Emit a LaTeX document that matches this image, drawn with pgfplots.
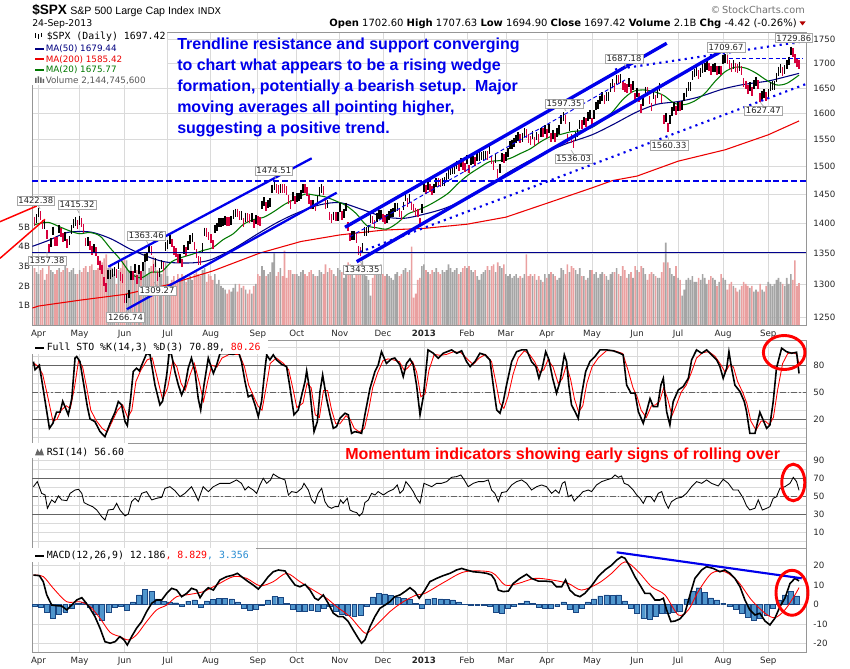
\documentclass[border=0pt]{standalone}
\usepackage{pgfplots}
\pgfplotsset{compat=1.18}
\usepackage{pgfplotstable}
\usepackage{fontspec}
\setmainfont{DejaVu Sans}
\newfontfamily\arialf{Liberation Sans}
\newfontfamily\monof{DejaVu Sans Mono}
\definecolor{upc}{RGB}{0,0,0}
\definecolor{dnc}{RGB}{214,0,60}
\definecolor{volg}{RGB}{165,165,165}
\definecolor{volr}{RGB}{234,160,160}
\definecolor{ma50}{RGB}{0,0,128}
\definecolor{ma200}{RGB}{235,0,0}
\definecolor{ma20}{RGB}{0,120,0}
\definecolor{gridc}{RGB}{218,218,218}
\definecolor{framec}{RGB}{150,150,150}
\definecolor{histc}{RGB}{80,150,205}
\definecolor{histd}{RGB}{25,70,130}
\definecolor{annblue}{RGB}{0,0,235}
\definecolor{macdblue}{RGB}{40,140,210}
\definecolor{lvl}{RGB}{100,100,100}
\newcommand\sm{\fontsize{6.5}{7.5}\selectfont}

\pgfplotsset{
  panel/.style={
    scale only axis, width=580.5pt, anchor=south west,
    xmin=-3.2, xmax=374.4,
    xtick={0,20,42,63,84,107,126,147,168,188,209,228,248,270,292,312,334,356},
    xmajorgrids, grid style={gridc, line width=0.6pt},
    minor grid style={gridc, line width=0.6pt},
    axis line style={framec, line width=0.6pt},
    tick style={draw=none},
    yticklabel pos=right,
    ticklabel style={font=\sm, text=black!85},
    yticklabel style={xshift=2pt},
    xticklabel style={yshift=-0.5pt},
    /pgf/number format/assume math mode=true,
  },
}

\pgfplotstableread{
i c v d
-2 1403.3 2.9 0
-1 1408.5 2.7 1
0 1419.0 2.6 1
1 1413.4 2.8 0
2 1398.0 2.9 0
3 1398.1 2.3 1
4 1382.2 2.6 0
5 1358.6 3.3 0
6 1368.7 2.8 1
7 1387.6 2.7 1
8 1370.3 2.6 0
9 1369.6 2.8 0
10 1390.8 2.9 1
11 1385.1 2.7 0
12 1376.9 2.8 0
13 1378.5 3.0 1
14 1366.9 2.9 0
15 1372.0 2.7 1
16 1390.7 2.8 1
17 1400.0 2.9 1
18 1403.4 2.6 1
19 1397.9 2.6 0
20 1405.8 2.8 1
21 1402.3 2.7 0
22 1391.6 2.9 0
23 1369.1 3.0 0
24 1369.6 2.7 1
25 1363.7 3.0 0
26 1354.6 3.1 0
27 1358.0 2.8 1
28 1353.4 2.8 0
29 1338.4 2.9 0
30 1330.7 3.3 0
31 1324.8 3.2 0
32 1304.9 3.4 0
33 1295.2 3.6 0
34 1316.0 2.9 1
35 1316.6 3.0 1
36 1318.9 2.9 1
37 1320.7 2.6 1
38 1317.8 2.1 0
39 1332.4 2.8 1
40 1313.3 2.9 0
41 1310.3 3.3 0
42 1278.0 3.4 0
43 1278.2 3.3 1
44 1285.5 2.8 1
45 1315.1 3.0 1
46 1315.0 2.7 0
47 1325.7 2.6 1
48 1308.9 2.8 0
49 1324.2 2.9 1
50 1314.9 2.7 0
51 1329.1 3.0 1
52 1342.8 3.7 1
53 1344.8 2.6 1
54 1358.0 2.9 1
55 1355.7 3.0 0
56 1325.5 3.5 0
57 1335.0 3.2 1
58 1313.7 2.8 0
59 1320.0 2.7 1
60 1331.9 2.6 1
61 1329.0 2.8 0
62 1362.2 3.2 1
63 1365.5 2.5 1
64 1374.0 1.6 1
65 1367.6 2.3 0
66 1354.7 2.5 0
67 1352.5 2.2 0
68 1341.5 2.6 0
69 1341.5 2.4 1
70 1334.8 2.6 0
71 1356.8 2.5 1
72 1353.6 2.2 0
73 1363.7 2.4 1
74 1372.8 2.5 1
75 1376.5 2.3 1
76 1362.7 2.6 0
77 1350.5 2.7 0
78 1338.3 2.6 0
79 1337.9 2.5 0
80 1360.0 2.8 1
81 1386.0 2.9 1
82 1385.3 2.2 0
83 1379.3 2.6 0
84 1375.1 2.5 0
85 1365.0 2.3 0
86 1391.0 2.6 1
87 1394.2 2.1 1
88 1401.4 2.3 1
89 1402.2 2.0 1
90 1402.8 1.9 1
91 1405.9 1.8 1
92 1404.1 1.6 0
93 1403.9 1.8 0
94 1405.5 1.7 1
95 1415.5 1.9 1
96 1418.2 2.1 1
97 1418.1 1.7 0
98 1413.2 2.1 0
99 1413.5 1.9 1
100 1402.1 2.0 0
101 1411.1 1.8 1
102 1410.4 1.6 0
103 1409.3 1.8 0
104 1410.5 1.6 1
105 1399.5 2.0 0
106 1406.6 2.1 1
107 1404.9 2.6 0
108 1403.4 2.5 0
109 1432.1 3.0 1
110 1437.9 2.8 1
111 1429.1 2.5 0
112 1433.6 2.6 1
113 1436.6 2.7 1
114 1460.0 3.2 1
115 1465.8 3.7 1
116 1461.2 2.5 0
117 1459.3 2.7 0
118 1461.1 2.9 1
119 1460.3 2.5 0
120 1460.2 3.8 0
121 1456.9 2.4 0
122 1441.6 2.8 0
123 1433.3 2.8 0
124 1447.2 2.6 1
125 1440.7 2.6 0
126 1444.5 2.6 1
127 1445.8 2.5 1
128 1451.0 2.7 1
129 1461.4 2.8 1
130 1460.9 2.6 0
131 1455.9 2.5 0
132 1441.5 2.7 0
133 1432.6 2.8 0
134 1432.8 2.6 1
135 1428.6 2.5 0
136 1440.1 2.5 1
137 1454.9 2.8 1
138 1460.9 2.7 1
139 1457.3 2.6 0
140 1433.2 3.1 0
141 1433.8 2.7 1
142 1413.1 2.9 0
143 1408.8 2.8 0
144 1413.0 2.6 1
145 1411.9 2.5 0
146 1412.2 2.9 1
147 1427.6 2.8 1
148 1414.2 2.7 0
149 1417.3 2.4 1
150 1428.4 2.8 1
151 1394.5 3.2 0
152 1377.5 3.1 0
153 1379.9 2.8 1
154 1380.0 2.4 1
155 1374.5 2.8 0
156 1355.5 3.1 0
157 1353.3 3.1 0
158 1359.9 3.3 1
159 1386.9 2.8 1
160 1387.0 2.5 1
161 1391.0 2.3 1
162 1409.2 1.5 1
163 1406.3 2.4 0
164 1398.9 2.7 0
165 1409.9 2.8 1
166 1416.0 2.6 1
167 1416.2 3.1 1
168 1409.5 2.6 0
169 1407.1 2.5 0
170 1409.3 2.6 1
171 1413.9 2.5 1
172 1418.1 2.4 1
173 1418.6 2.3 1
174 1427.8 2.6 1
175 1428.5 2.7 1
176 1419.5 2.5 0
177 1413.6 2.6 0
178 1430.4 2.8 1
179 1446.8 2.9 1
180 1435.8 2.7 0
181 1443.7 2.8 1
182 1430.2 4.0 0
183 1426.7 1.4 0
184 1419.8 1.6 0
185 1418.1 2.3 0
186 1402.4 2.4 0
187 1426.2 3.0 1
188 1462.4 3.1 1
189 1459.4 2.8 0
190 1466.5 2.7 1
191 1461.9 2.6 0
192 1457.2 2.8 0
193 1461.0 2.7 1
194 1472.1 2.9 1
195 1472.1 2.7 0
196 1470.7 2.6 0
197 1472.3 2.8 1
198 1472.6 2.7 1
199 1480.9 2.8 1
200 1486.0 3.1 1
201 1492.6 2.9 1
202 1494.8 2.7 1
203 1494.8 2.8 1
204 1503.0 2.9 1
205 1500.2 2.6 0
206 1507.8 2.7 1
207 1502.0 2.9 0
208 1498.1 3.0 0
209 1513.2 2.9 1
210 1495.7 3.0 0
211 1511.3 2.8 1
212 1512.1 2.7 1
213 1509.4 2.8 0
214 1517.9 2.5 1
215 1518.0 2.3 1
216 1519.4 2.6 1
217 1520.3 2.7 1
218 1521.4 2.8 1
219 1519.8 3.0 0
220 1530.9 2.8 1
221 1512.0 3.0 0
222 1502.4 3.1 0
223 1515.6 2.7 1
224 1487.9 3.2 0
225 1496.9 3.0 1
226 1516.0 2.9 1
227 1514.7 3.1 0
228 1518.2 2.6 1
229 1525.2 2.5 1
230 1539.8 2.6 1
231 1541.5 2.4 1
232 1544.3 2.5 1
233 1551.2 2.6 1
234 1556.2 2.4 1
235 1552.5 2.5 0
236 1554.5 2.4 1
237 1563.2 2.6 1
238 1560.7 3.6 0
239 1552.1 2.5 0
240 1548.3 2.6 0
241 1558.7 2.5 1
242 1545.8 2.6 0
243 1556.9 2.3 1
244 1551.7 2.5 0
245 1563.8 2.3 1
246 1562.9 2.2 0
247 1569.2 2.6 1
248 1562.2 2.4 0
249 1570.3 2.6 1
250 1553.7 2.7 0
251 1560.0 2.6 1
252 1553.3 2.5 0
253 1563.1 2.3 1
254 1568.6 2.4 1
255 1587.7 2.9 1
256 1593.4 2.8 1
257 1588.9 2.6 0
258 1552.4 3.1 0
259 1574.6 2.7 1
260 1552.0 3.0 0
261 1541.6 2.9 0
262 1555.3 2.8 1
263 1562.5 2.6 1
264 1578.8 2.9 1
265 1578.8 2.5 0
266 1585.2 2.5 1
267 1582.2 2.3 0
268 1593.6 2.4 1
269 1597.6 2.8 1
270 1582.7 2.8 0
271 1597.6 2.6 1
272 1614.4 2.7 1
273 1617.5 2.4 1
274 1626.0 2.6 1
275 1632.7 2.7 1
276 1626.7 2.6 0
277 1633.7 2.5 1
278 1633.8 2.3 1
279 1650.3 2.6 1
280 1658.8 2.7 1
281 1650.5 2.7 0
282 1667.5 2.9 1
283 1666.3 2.6 0
284 1669.2 2.5 1
285 1655.4 3.0 0
286 1650.5 2.8 0
287 1649.6 2.4 0
288 1660.1 2.6 1
289 1648.4 2.7 0
290 1654.4 2.4 1
291 1630.7 3.0 0
292 1640.4 2.8 1
293 1631.4 2.7 0
294 1608.9 3.0 0
295 1622.6 2.9 1
296 1643.4 2.6 1
297 1642.8 2.3 0
298 1626.1 2.6 0
299 1612.5 2.7 0
300 1636.4 2.6 1
301 1626.7 2.5 0
302 1639.0 2.4 1
303 1651.8 2.4 1
304 1628.9 2.7 0
305 1588.2 3.2 0
306 1592.4 4.2 1
307 1573.1 3.2 0
308 1588.0 2.9 1
309 1603.3 2.6 1
310 1613.2 2.5 1
311 1606.3 3.0 0
312 1614.1 2.4 1
313 1614.1 2.3 0
314 1615.4 1.5 1
315 1631.9 1.8 1
316 1640.5 2.3 1
317 1652.3 2.4 1
318 1652.6 2.3 1
319 1675.0 2.5 1
320 1680.2 2.2 1
321 1682.5 2.2 1
322 1676.3 2.4 0
323 1680.9 2.3 1
324 1689.4 2.6 1
325 1692.1 2.4 1
326 1695.5 2.1 1
327 1692.4 2.3 0
328 1685.9 2.5 0
329 1690.3 2.4 1
330 1691.7 2.3 1
331 1685.3 2.0 0
332 1686.0 2.2 1
333 1685.7 2.6 0
334 1706.9 2.4 1
335 1709.7 2.3 1
336 1707.1 1.8 0
337 1697.4 2.1 0
338 1690.9 2.2 0
339 1697.5 2.0 1
340 1691.4 1.9 0
341 1689.5 1.7 0
342 1694.2 1.8 1
343 1685.4 2.0 0
344 1661.3 2.2 0
345 1655.8 2.1 0
346 1646.1 2.0 0
347 1652.4 1.9 1
348 1642.8 2.0 0
349 1657.0 1.7 1
350 1663.5 1.8 1
351 1656.8 1.7 0
352 1630.5 2.1 0
353 1635.0 1.8 1
354 1638.2 1.7 1
355 1633.0 2.0 0
356 1639.8 2.2 1
357 1653.1 2.1 1
358 1655.1 2.0 1
359 1655.2 2.1 1
360 1671.7 2.3 1
361 1684.0 2.4 1
362 1689.1 2.2 1
363 1683.4 2.1 0
364 1688.0 2.0 1
365 1697.6 2.4 1
366 1704.8 2.1 1
367 1725.5 2.6 1
368 1722.3 2.3 0
369 1709.9 3.3 0
370 1701.8 2.0 0
371 1697.4 2.14 0
}\spx

\begin{document}
\begin{tikzpicture}
\path[use as bounding box] (0,0) rectangle (637.5pt,501pt);

% ---------- price panel: grid and scale ----------
\begin{axis}[panel, at={(24pt,257.25pt)}, height=219.75pt,
  ymode=log, ymin=1238.4, ymax=1765.8,
  ytick={1250,1300,1350,1400,1450,1500,1550,1600,1650,1700,1750},
  yticklabels={1250,1300,1350,1400,1450,1500,1550,1600,1650,1700,1750},
  ymajorgrids,
  xticklabels={Apr,May,Jun,Jul,Aug,Sep,Oct,Nov,Dec,\textbf{2013},Feb,Mar,Apr,May,Jun,Jul,Aug,Sep},
]
\end{axis}

% ---------- volume ----------
\begin{axis}[panel, at={(24pt,257.25pt)}, height=219.75pt,
  ymin=0, ymax=14.96, xtick=\empty, xmajorgrids=false,
  axis line style={draw=none},
  ytick={1,2,3,4,5}, yticklabels={1B,2B,3B,4B,5B},
  yticklabel pos=left, yticklabel style={xshift=0pt},
]
\addplot[ybar, bar width=0.78, bar shift=0pt, fill=volg, draw=none] table[x=i, y expr=\thisrow{v}*\thisrow{d}]{\spx};
\addplot[ybar, bar width=0.78, bar shift=0pt, fill=volr, draw=none] table[x=i, y expr=\thisrow{v}*(1-\thisrow{d})]{\spx};
\end{axis}

% ---------- price bars and moving averages ----------
\begin{axis}[panel, at={(24pt,257.25pt)}, height=219.75pt,
  ymin=1238.4, ymax=1765.8, ymode=log, hide axis, unbounded coords=discard]
\addplot[upc, only marks, mark=|, mark size=3.3pt, line width=1.15pt] table[x=i, y expr=\thisrow{c}*\thisrow{d}]{\spx};
\addplot[dnc, only marks, mark=|, mark size=3.3pt, line width=1.15pt] table[x=i, y expr=\thisrow{c}*(1-\thisrow{d})]{\spx};
\addplot[ma200, line width=0.8pt] coordinates {(-3,1264) (0,1267) (20,1276) (42,1285) (63,1300) (85,1322) (108,1351) (128,1370) (147,1381) (168,1389) (188,1392) (209,1399) (228,1411) (248,1435) (270,1462) (280,1475) (292,1483) (312,1510) (335,1531) (356,1559) (371,1585.4)};
\addplot[ma50, line width=0.8pt, smooth] coordinates {(-3,1362) (5,1372) (14,1385) (25,1386) (35,1375) (45,1357) (55,1343) (63,1336) (75,1335) (84,1340) (95,1358) (107,1383) (117,1403) (126,1418) (137,1432) (147,1436) (158,1424) (168,1412) (178,1409) (188,1416) (198,1426) (209,1443) (218,1462) (228,1487) (238,1508) (248,1527) (258,1543) (270,1559) (280,1578) (292,1603) (302,1618) (312,1623) (322,1632) (334,1648) (344,1657) (356,1664) (364,1672) (371,1679.4)};
\addplot[ma20, line width=0.8pt, smooth] coordinates {(-2,1398) (0,1400) (5,1402) (10,1395) (15,1388) (20,1383) (25,1385) (30,1379) (35,1359) (40,1340) (45,1318) (50,1311) (55,1320) (60,1321) (65,1337) (70,1344) (75,1349) (80,1355) (85,1360) (90,1373) (95,1383) (100,1399) (105,1407) (110,1411) (115,1421) (120,1433) (125,1442) (130,1451) (135,1449) (140,1446) (145,1439) (150,1431) (155,1417) (160,1397) (165,1393) (170,1391) (175,1401) (180,1416) (185,1423) (190,1431) (195,1441) (200,1453) (205,1471) (210,1486) (215,1498) (220,1509) (225,1511) (230,1515) (235,1524) (240,1533) (245,1546) (250,1556) (255,1560) (260,1565) (265,1567) (270,1573) (275,1586) (280,1603) (285,1627) (290,1643) (295,1646) (300,1643) (305,1635) (310,1620) (315,1617) (320,1624) (325,1639) (330,1663) (335,1683) (340,1692) (345,1690) (350,1680) (355,1666) (360,1656) (365,1659) (371,1675.8)};
\end{axis}

% ---------- Full STO ----------
\begin{axis}[panel, at={(24pt,168.75pt)}, height=77.25pt,
  ymin=-6.3, ymax=108, ytick={20,50,80}, yticklabels={20,50,80},
  minor ytick={0,10,...,100}, yminorgrids, xticklabels={}]
\draw[lvl, line width=0.7pt] (axis cs:-3.2,20) -- (axis cs:374.4,20);
\draw[lvl, line width=0.7pt] (axis cs:-3.2,80) -- (axis cs:374.4,80);
\draw[lvl, line width=0.6pt, dash pattern=on 4.5pt off 1.5pt on 1pt off 1.5pt] (axis cs:-3.2,50) -- (axis cs:374.4,50);
\addplot[red, line width=0.65pt] coordinates {(-2,82) (0,78) (2,70) (4.5,45) (7,18) (9,20) (11,30) (13.5,35) (15.5,32) (17.5,55) (19.5,85) (21.5,78) (23.5,55) (25.5,30) (28,19) (31,10) (33.5,6) (36,18) (38.5,30) (41,36) (43.5,22) (45.5,30) (47.5,62) (50,75) (53,86) (55.5,88) (58,65) (60.5,42) (63,55) (65.5,85) (67.5,78) (69.5,60) (71.5,52) (74,70) (76,82) (78.5,60) (80.5,40) (82.5,62) (84.5,80) (87,78) (89.5,88) (93,92) (98,92) (100.5,78) (102.5,58) (105,45) (107,35) (109,30) (111,55) (113,82) (116,88) (119.5,82) (122,75) (124,55) (126,33) (129,38) (131,60) (133,55) (135,25) (137,22) (139,52) (141,52) (143,30) (145,15) (147,15) (150,24) (152,20) (154,10) (156.5,6) (159,10) (161,30) (163,55) (165.5,72) (168,85) (170.5,87) (173,86) (176,84) (178.5,74) (180.5,78) (182.5,84) (184.5,72) (186.5,45) (188.5,48) (190.5,75) (193,92) (196,91) (199,92) (202.5,95) (206,94) (209.5,86) (212,81) (215,88) (218,92) (221,84) (223,62) (225,38) (227,32) (229,45) (231.5,70) (234,88) (237,96) (239.5,92) (242,84) (244.5,72) (246.5,75) (248.5,86) (251,78) (253.5,60) (255.5,65) (257.5,80) (259.5,65) (261.5,42) (263.5,28) (265.5,35) (267.5,60) (270,78) (273,88) (277,96) (281,96) (285,93) (287.5,75) (290,55) (292,45) (294,30) (296.5,22) (299,35) (301,36) (303,40) (305,55) (307,42) (309,24) (311,35) (313.5,50) (316,58) (318.5,72) (321,88) (324,94) (327,95) (330,90) (333,80) (335,72) (337,80) (339,78) (341,62) (343.5,50) (345.5,38) (347.5,18) (350,8) (352.5,18) (354.5,18) (356.5,14) (358.5,22) (360.5,52) (363,82) (365.5,93) (368,94) (370,92) (371,80.3)};
\addplot[black, line width=1.2pt] coordinates {(-2.5,84) (-1.7,75) (0.4,80) (3.2,40) (5.3,10) (7,15.6) (8.8,28) (10.5,28) (11.8,40) (12.9,34) (14.5,25) (16.2,43) (17.8,88) (18.6,89.6) (20.2,84) (21.8,62) (23.8,34) (25.1,20.4) (27.5,17.4) (30,6.3) (32.4,0.7) (34.9,15.6) (37.3,27.8) (38.9,39.6) (40.5,36) (42.2,17.4) (43.3,13) (44.9,43) (46.2,73) (47.8,76.7) (49.2,73.7) (50.3,80) (52.7,93) (54.4,91.5) (56.8,58) (59.2,36) (60.5,40) (62.5,69) (63.8,95) (64.9,91.5) (66.5,73) (68.2,58) (69.8,47) (71.4,56) (73,76.7) (74.6,88) (76.3,73) (77.9,43) (79.1,30.4) (80.7,58) (82.8,88) (84.4,76.7) (85.3,71) (86.9,80.4) (88.5,93) (91.8,93) (95,92) (97.5,95) (99,84) (100.7,62) (102.3,45) (104,47) (105.6,36) (107.2,23) (108.8,40) (110.5,76.7) (111.3,91.5) (112.9,86) (114.5,91.5) (116.1,86) (118.6,81) (121,78.5) (122.7,54.4) (124.6,25) (126.7,30.4) (128.4,47) (130,62) (130.8,73.7) (132.4,50.7) (134.4,6.3) (136,17.4) (137.3,50.7) (138.6,69.3) (140.5,43) (142.2,25) (143.8,10) (145.4,12) (147,21) (149.5,26.7) (151.1,25) (152.7,4.4) (154.3,6.3) (156,5.5) (157.6,4.4) (159.2,25) (161.7,54.4) (164.1,73) (165.7,80.4) (167.3,95) (169.7,82) (172.2,87) (173.8,88) (176.3,80.4) (177.9,67.4) (179.5,82) (181.2,87) (182.8,80.4) (184.4,58) (186.1,25) (187.7,45) (190,97) (192.6,93.3) (195,87.8) (197.4,93.3) (201.5,97) (204,93.3) (206.4,96) (208.8,84) (210.5,78.5) (212.9,84) (215.3,93.3) (217.8,91.5) (220.2,86) (221.8,58) (223.5,30.4) (225.1,26.7) (226.7,39.6) (228.3,58) (230.8,84) (233.2,95) (235.7,97) (238.1,97) (240.5,84) (242.6,78.5) (244.1,65.5) (245.7,76.7) (247.4,95) (249,86) (250.8,65.5) (252.7,49) (254.4,62) (256.5,91.5) (257.6,84) (258.7,58) (260,36) (261.7,28.5) (263.3,21) (264.9,47) (266.9,73) (269,84) (271.4,89.6) (273.9,97) (277.1,97) (280.4,96) (283.6,93.3) (285.2,91.5) (286.9,58) (289,49) (291,49) (292.6,28.5) (295,15.6) (296.6,28.5) (298.3,43) (299.9,34) (302,34) (303.6,58) (304.8,65.5) (306.4,28.5) (308,13.7) (309.6,39.6) (312.1,52.6) (314.5,56.3) (317,65.5) (318.6,86) (321,97) (323.5,93.3) (325.9,97) (328.3,91.5) (330.8,86) (332.4,78.5) (334,65.5) (335.7,76.7) (336.8,95) (338.1,76.7) (339.7,58) (342.2,50.7) (344.3,39.6) (345.4,28.5) (347,4.4) (349.5,4.4) (351.9,27.8) (353.5,19.2) (355.2,10) (356.8,13.7) (358.4,39.6) (360,76.7) (362.5,98.9) (364.9,95) (367.4,93.3) (369.8,94.4) (371,70.9)};
\end{axis}

% ---------- RSI ----------
\begin{axis}[panel, at={(24pt,90pt)}, height=78.75pt,
  ymin=-7.4, ymax=109.2, ytick={10,30,50,70,90}, yticklabels={10,30,50,70,90},
  minor ytick={0,10,...,100}, yminorgrids, xticklabels={}]
\draw[lvl, line width=0.7pt] (axis cs:-3.2,30) -- (axis cs:374.4,30);
\draw[lvl, line width=0.7pt] (axis cs:-3.2,70) -- (axis cs:374.4,70);
\draw[lvl, line width=0.6pt, dash pattern=on 4.5pt off 1.5pt on 1pt off 1.5pt] (axis cs:-3.2,50) -- (axis cs:374.4,50);
\addplot[black, line width=0.65pt] coordinates {(-2.5,60.7) (-0.6,66.3) (1.5,53.3) (3.2,51.5) (4.3,36.7) (6.4,46) (8,43) (9.7,50.4) (11.3,46) (13.8,45.2) (15.4,53.3) (17.8,57) (19.5,57.8) (21.1,53.3) (22.2,43) (24.4,40.4) (26.4,38.5) (28.4,34.8) (30.8,27.4) (32.4,23.7) (34,34.8) (36.5,35.6) (38.1,42.2) (39.7,34.8) (42.2,28.2) (43.8,30.4) (45.4,44.1) (47.1,47.8) (48.7,44.1) (50.3,53.3) (52.7,55.2) (55.2,46) (57.6,47.8) (60.1,48.9) (61.7,58.9) (64.1,60.7) (66.5,56.3) (69,49.6) (71.4,53.3) (73,57) (74.6,60.7) (76.3,53.3) (77.9,45.2) (80.3,60.7) (82.8,55.2) (85.3,60.7) (88.5,64.4) (93.4,64.4) (96.6,68.2) (99,64.4) (100.7,57) (102.3,60.7) (104.7,57) (106.4,53.3) (108,62.6) (109.6,70) (111.3,64.4) (113.2,68.2) (114.5,74.8) (117,71.1) (120.2,68.2) (121.9,51.5) (123.5,55.2) (125.9,54.1) (128.4,58.9) (129.5,64.4) (131.6,57) (133.2,46) (134.8,42.2) (136.4,53.3) (138.1,58.9) (139.7,44.1) (141.3,38.5) (142.9,36.7) (144.6,38.5) (146.2,38.5) (147.3,46) (148.6,42.2) (150.6,47.8) (151.9,34.8) (153.5,33) (155.2,31.9) (156.5,28.2) (158.1,31.9) (159.2,43) (160.9,46) (162.5,53.3) (164.1,51.5) (165.7,55.2) (168.2,51.5) (170.6,55.2) (173.1,57.8) (175,62.6) (176.3,53.3) (177.9,57) (179.2,66.3) (181.2,60.7) (182.8,55.2) (184.4,47.8) (186.1,42.2) (188,64.4) (191.8,60.7) (194.2,64.4) (196.6,64.4) (199.1,66.3) (201.5,71.1) (204,71.9) (206,73.7) (207.7,68.2) (209.6,60.7) (212.1,64.4) (214.5,66.3) (217,66.3) (219.4,68.2) (221,57) (222.6,53.3) (224.3,44.1) (225.9,54.1) (228.3,55.2) (230.8,62.6) (233.2,66.3) (235.7,68.2) (238.1,64.4) (240.5,57) (243,60.7) (245.4,62.6) (247.8,60.7) (250.3,53.3) (252.2,57) (253.9,53.3) (255.5,64.4) (256.8,66.3) (258.4,49.6) (260,51.5) (261.3,44.8) (263.3,49.6) (265.7,55.2) (268.2,57) (269.8,55.2) (272.2,62.6) (274.7,66.3) (277.1,68.2) (279.6,70) (281.2,73.7) (282.8,71.1) (284.4,72.6) (285.7,64.4) (287.7,62.6) (290.1,57) (291.8,51.5) (293.4,47.8) (295,42.2) (296.6,49.6) (298.7,49.6) (300.4,44.1) (302.3,53.3) (304,55.2) (305.6,44.1) (307.2,36.7) (308.8,44.1) (311.3,47.8) (313.7,48.9) (316.1,53.3) (318.6,60.7) (321,66.3) (323.5,64.4) (325.9,68.2) (328.3,64.4) (331.6,61.5) (334,68.9) (336.5,64.4) (338.9,57) (341.3,57) (343.8,47.8) (345.4,39.3) (347,34.8) (349.5,36.7) (351.1,46) (353.1,34.8) (355.2,36.7) (356.8,38.5) (358.4,47.8) (360,49.6) (361.7,58.9) (364.1,60.7) (366.6,64.4) (368.2,71.1) (369.8,66.3) (371,56.6)};
\end{axis}

% ---------- MACD ----------
\begin{axis}[panel, at={(24pt,12pt)}, height=78pt,
  ymin=-24.3, ymax=29.1, ytick={-20,-10,0,10,20}, yticklabels={-20,-10,0,10,20},
  ymajorgrids,
  xticklabels={Apr,May,Jun,Jul,Aug,Sep,Oct,Nov,Dec,\textbf{2013},Feb,Mar,Apr,May,Jun,Jul,Aug,Sep}]
\addplot[ybar, bar width=2.4, bar shift=0pt, fill=histc, draw=histd, line width=0.3pt] coordinates {(-2,-0.8) (1,-1.2) (4,-4.0) (7,-6.8) (10,-5.0) (13,-3.8) (16,-1.8) (19,0.5) (22,1.5) (25,-1.5) (28,-5.0) (31,-8.2) (34,-4.0) (37,-1.2) (40,-1.0) (43,-2.7) (46,1.5) (49,5.0) (52,7.8) (55,7.0) (58,3.0) (61,1.6) (64,1.5) (67,1.0) (70,-1.0) (73,1.8) (76,2.5) (79,-1.2) (82,2.0) (85,2.8) (88,3.2) (91,3.3) (94,3.0) (97,1.5) (100,-2.0) (103,-2.7) (106,-2.5) (109,-0.5) (112,2.5) (115,4.1) (118,3.8) (121,0.5) (124,-2.5) (127,-3.6) (130,-3.2) (133,-3.0) (136,-3.6) (139,-2.0) (142,-1.0) (145,-3.5) (148,-5.0) (151,-5.5) (154,-6.0) (157,-5.3) (160,-1.0) (163,4.0) (166,5.8) (169,5.5) (172,4.8) (175,4.0) (178,3.3) (181,3.0) (184,0.5) (187,-1.9) (190,3.0) (193,3.3) (196,3.0) (199,2.8) (202,2.5) (205,1.5) (208,0.2) (211,-0.5) (214,-0.5) (217,-0.3) (220,-0.8) (223,-4.0) (226,-4.5) (229,-2.0) (232,-1.0) (235,0.5) (238,1.9) (241,0.5) (244,-1.5) (247,-1.9) (250,-1.7) (253,-1.0) (256,1.5) (259,-2.5) (262,-4.0) (265,-2.0) (268,1.5) (271,3.0) (274,4.5) (277,5.0) (280,4.8) (283,5.0) (286,2.0) (289,-2.0) (292,-4.5) (295,-7.0) (298,-7.3) (301,-6.0) (304,-4.4) (307,-4.5) (310,-4.0) (313,-3.5) (316,3.0) (319,7.0) (322,8.7) (325,6.5) (328,3.5) (331,2.4) (334,0.8) (337,-1.0) (340,-2.5) (343,-4.5) (346,-6.5) (349,-7.9) (352,-7.0) (355,-5.5) (358,-2.0) (361,2.5) (364,5.0) (367,7.0) (370,4.5)};
\addplot[red, line width=0.65pt, smooth] coordinates {(-2.5,15.2) (2.3,14.4) (7.2,8.4) (13.8,1.5) (20.2,1.5) (25.1,-1) (30,-7) (34.9,-14.2) (39.7,-16.4) (43.8,-18.1) (47.8,-15.5) (52.7,-8.7) (57.6,-2.7) (62.5,-0.2) (67.4,4.1) (73.9,5.3) (80.4,6.7) (86.9,10.1) (95,14.4) (101.5,13.5) (108,9.7) (114.5,11.8) (121,16.1) (127.5,11.8) (134,7.5) (140.5,3.3) (145.4,-1) (151.9,-6.1) (156.8,-12.1) (160,-14.7) (164.9,-10.4) (171.4,-3.6) (177.9,1.5) (184.4,5) (188.5,5.8) (198.3,11.8) (208,16.9) (221,16.6) (227.5,10.1) (234,10.9) (242.2,13.5) (250.3,12.7) (258.4,10.9) (264.9,7.5) (273,10.9) (279.6,16.1) (286.1,22) (292.6,16.9) (299.1,9.2) (305.6,5) (312.1,-5.3) (317,-2.7) (321.8,6.7) (328.3,16.1) (334.8,16.9) (341.3,11.8) (347.8,2.4) (354.4,-4.4) (359.2,-6.7) (364.1,-2.7) (369,5) (371,8.8)};
\addplot[black, line width=1.2pt] coordinates {(-2.5,15.2) (0.4,14.9) (2.3,11.8) (4,5) (6.4,-0.2) (8.8,-0.5) (11.3,-0.7) (13.8,-2.7) (16.2,-0.2) (18.6,2.4) (21.1,3.6) (22.7,1.5) (25.1,-1.9) (27.5,-6.1) (30,-12.1) (32.4,-19) (34.9,-19.8) (37.3,-19) (39.7,-16.4) (41.7,-18.1) (43.3,-20.7) (45.4,-16.4) (47.8,-12.1) (50.3,-8.7) (52.7,-3.6) (55.2,0.7) (57.6,2.4) (60.1,2.4) (62.5,5.8) (64.9,8.4) (67.4,7.5) (69.8,4.1) (72.3,5.8) (74.6,8.4) (77.1,7.5) (78.8,3.6) (80.7,6.7) (82.8,8.7) (85.3,7.5) (88.5,12.7) (91.8,14.4) (95,15.2) (97,16.1) (99,14.4) (102.3,11.8) (104.7,10.1) (107.2,8) (109.6,10.9) (112.1,14.4) (114.5,16.9) (117,17.8) (120.2,17.3) (122.7,13.5) (125.1,10.1) (127.5,9.2) (130,10.4) (132.4,7.5) (134.8,3.3) (136.4,2.4) (138.9,5) (141.3,0.7) (143.8,-4.4) (146.2,-6.1) (148.6,-6.1) (151.1,-8.7) (153.5,-13) (156,-17.3) (157.6,-19.8) (159.2,-18.1) (161.7,-11.3) (164.1,-6.1) (166.5,-1.9) (169,-0.2) (171.4,1.5) (173.8,4.1) (176.3,5) (178.7,6.7) (181.2,8.7) (183.6,6.7) (185.7,3.3) (188,6.7) (190.9,11.8) (194.2,13.5) (197.4,14.9) (200.7,16.1) (203.9,17.8) (206.4,18.6) (208.8,17.8) (212.1,16.9) (215.3,16.6) (218.6,16.1) (221,15.2) (222.6,12.7) (224.3,7.5) (226.7,6.7) (229.2,7) (231.6,10.9) (234.8,13.5) (238.1,15.6) (240.5,13.5) (243.8,12.1) (247,12.1) (250.3,11.8) (252.7,9.2) (255.2,9.2) (257.1,12.7) (259.2,7.5) (261.7,5) (264.1,4.1) (266.5,5.8) (269.8,9.7) (273,14.4) (276.3,17.8) (279.6,20.3) (282,22.9) (284.4,24.6) (286.1,23.8) (288.5,19.5) (290.9,14.4) (293.4,10.1) (295.8,5.8) (298.3,5.8) (300.7,2.4) (303.1,2.4) (304.8,3.3) (306.4,-2.7) (308.5,-8.7) (310.5,-8.4) (312.9,-7.3) (315.3,-4.4) (317.8,5) (320.2,13.5) (323.5,17.8) (325.9,19.5) (329.2,18.6) (332.4,16.9) (334.8,17.8) (337.3,16.1) (339.7,13.5) (342.2,9.2) (344.6,2.4) (347,-2.7) (349.5,-5.3) (351.9,-4.4) (354.4,-8.4) (356.8,-10.4) (359.2,-7) (361.7,-1) (364.1,3.3) (366.6,10.9) (369,13.5) (371,12.2)};
\end{axis}

% ---------- annotations in pixel coordinates ----------
\begin{scope}[x=0.75pt, y=-0.75pt, shift={(0pt,501pt)}]
% header
\node[anchor=base west, inner sep=0, font=\arialf\bfseries\fontsize{10.2}{12}\selectfont] at (32,15) {\$SPX};
\node[anchor=base west, inner sep=0, font=\arialf\fontsize{8}{10}\selectfont] at (70,14.5) {S\&P 500 Large Cap Index};
\node[anchor=base west, inner sep=0, font=\fontsize{7}{9}\selectfont] at (197.5,14.5) {INDX};
\node[anchor=base west, inner sep=0, font=\fontsize{7}{9}\selectfont] at (32,26.5) {24-Sep-2013};
\node[anchor=base east, inner sep=0, font=\fontsize{7.5}{9}\selectfont] at (797,26.5) {\textbf{Open} 1702.60 \textbf{High} 1707.63 \textbf{Low} 1694.90 \textbf{Close} 1697.42 \textbf{Volume} 2.1B \textbf{Chg} -4.42 (-0.26\%)};
\fill[red!70!black] (799.5,21.5) -- (805.5,21.5) -- (802.5,25.5) -- cycle;
\node[anchor=base east, inner sep=0, text=black!55, font=\fontsize{7.3}{9}\selectfont] at (805,14) {\textcopyright\,StockCharts.com};

% price legend
\fill[white] (32.4,32.4) rectangle (167,85);
\draw[black, line width=0.7pt] (35.5,33.5)--(35.5,38) (38.5,34.5)--(38.5,39) (41.5,33)--(41.5,37.5);
\node[anchor=west, inner sep=0, font=\monof\fontsize{7.4}{8}\selectfont] at (46.5,36.3) {\$SPX (Daily) 1697.42};
\draw[ma50, line width=1.5pt] (35,48.7)--(44,48.7);
\node[anchor=west, inner sep=0, text=ma50, font=\fontsize{6.6}{8}\selectfont] at (45.5,48.7) {MA(50) 1679.44};
\draw[ma200, line width=1.5pt] (35,59.3)--(44,59.3);
\node[anchor=west, inner sep=0, text=ma200, font=\fontsize{6.6}{8}\selectfont] at (45.5,59.3) {MA(200) 1585.42};
\draw[ma20, line width=1.5pt] (35,70)--(44,70);
\node[anchor=west, inner sep=0, text=ma20, font=\fontsize{6.6}{8}\selectfont] at (45.5,70) {MA(20) 1675.77};
\fill[black!60] (35,83)rectangle(36.5,78) (37.5,83)rectangle(39,76.5) (40,83)rectangle(41.5,77.5) (42.5,83)rectangle(44,79);
\node[anchor=west, inner sep=0, text=black!65, font=\fontsize{6.6}{8}\selectfont] at (45.5,80.3) {Volume 2,144,745,600};

% reference lines
\draw[annblue, line width=1.6pt, dash pattern=on 4.5pt off 2.2pt] (32,180.7)--(806,180.7);
\draw[ma50!90!blue, line width=0.8pt] (32,252.8)--(806,252.8);
\draw[annblue, line width=0.7pt, dash pattern=on 3pt off 2pt] (729,58.3)--(803,58.3);
\draw[red, line width=1.1pt] (0,221.7)--(36.7,206);
\draw[red, line width=1.1pt] (0,258.3)--(45,219.3);
% channels
\draw[annblue, line width=1.7pt] (108.3,266.7)--(311.7,158.3);
\draw[annblue, line width=1.7pt] (126.7,309.3)--(336.7,192.7);
\draw[annblue, line width=2.5pt] (345,227.3)--(666.7,43.3);
\draw[annblue, line width=2.5pt] (356.7,261.7)--(735,43.3);
\draw[annblue, line width=0.7pt, dash pattern=on 3pt off 2pt] (350,236.7)--(625,80);
\draw[annblue, line width=1.6pt, dash pattern=on 1.6pt off 3.2pt] (615,69.5)--(806,41);
\draw[annblue, line width=1.6pt, dash pattern=on 1.6pt off 3.2pt] (360,252)--(806,84);

% price labels with pointers
\tikzset{lbl/.style={draw=black!35, fill=white, inner sep=1.1pt, line width=0.5pt, font=\fontsize{6.3}{7}\selectfont, text=black!85}}
\draw[black!35, line width=0.5pt] (38,205)--(40,209) (77,209)--(79,213) (47,256)--(47,252) (146,240)--(148,244) (157,286)--(154,282) (125.5,313)--(127,309) (273.8,175)--(276,179) (362,265)--(360,261) (564,108)--(566,111) (573.7,154)--(571,150) (624,63)--(626,67) (669,141)--(668,137) (726,51.5)--(728,55) (763.3,106)--(760,102) (793.8,42)--(794,45);
\node[lbl] at (35.8,200.5) {1422.38};
\node[lbl] at (77,204.5) {1415.32};
\node[lbl] at (47,260.5) {1357.38};
\node[lbl] at (146.3,235.5) {1363.46};
\node[lbl] at (157,290.8) {1309.27};
\node[lbl] at (125.5,317.2) {1266.74};
\node[lbl] at (273.8,170.7) {1474.51};
\node[lbl] at (362,269.5) {1343.35};
\node[lbl] at (564,103.5) {1597.35};
\node[lbl] at (573.7,158.7) {1536.03};
\node[lbl] at (624,58.7) {1687.18};
\node[lbl] at (669,145.3) {1560.33};
\node[lbl] at (726,47.2) {1709.67};
\node[lbl] at (763.3,110.5) {1627.47};
\node[lbl] at (793.8,38) {1729.86};

% text annotations
\node[anchor=north west, inner sep=0, align=left, text=annblue, font=\arialf\bfseries\fontsize{12}{15.75}\selectfont] at (177,37.5) {Trendline resistance and support converging\\to chart what appears to be a rising wedge\\formation, potentially a bearish setup.\ \ Major\\moving averages all pointing higher,\\suggesting a positive trend.};
\node[anchor=west, inner sep=0, text=red, font=\arialf\bfseries\fontsize{12}{14}\selectfont] at (345,455) {Momentum indicators showing early signs of rolling over};

% indicator legends
\fill[white] (32.4,340.5) rectangle (268,354.5);
\draw[black, line width=1.5pt] (35,347.7)--(44,347.7);
\node[anchor=west, inner sep=0, font=\monof\fontsize{7.4}{8}\selectfont] at (46.5,347.7) {Full STO \%K(14,3) \%D(3) 70.89, \textcolor{red}{80.26}};
\fill[white] (32.4,443.5) rectangle (128,458);
\fill[black!60] (35,455.5)--(37.5,449)--(39.5,452.5)--(41.5,448.5)--(44,455.5)--cycle;
\node[anchor=west, inner sep=0, font=\monof\fontsize{7.4}{8}\selectfont] at (46.5,452) {RSI(14) 56.60};
\fill[white] (32.4,548.5) rectangle (256,562.5);
\draw[black, line width=1.5pt] (35,555.7)--(44,555.7);
\node[anchor=west, inner sep=0, font=\monof\fontsize{7.4}{8}\selectfont] at (46.5,555.7) {MACD(12,26,9) 12.186\textcolor{red}{, 8.829}\textcolor{macdblue}{, 3.356}};

% MACD trendline and circles
\draw[annblue, line width=1.6pt] (616.7,552.3)--(801.7,578.3);
\draw[red, line width=2.2pt] (784.2,352.5) ellipse [x radius=20.8, y radius=17];
\draw[red, line width=2.2pt] (793.3,482.5) ellipse [x radius=11.5, y radius=18.3];
\draw[red, line width=2.2pt] (792,592.8) ellipse [x radius=16, y radius=22.5];
\end{scope}
\end{tikzpicture}
\end{document}
